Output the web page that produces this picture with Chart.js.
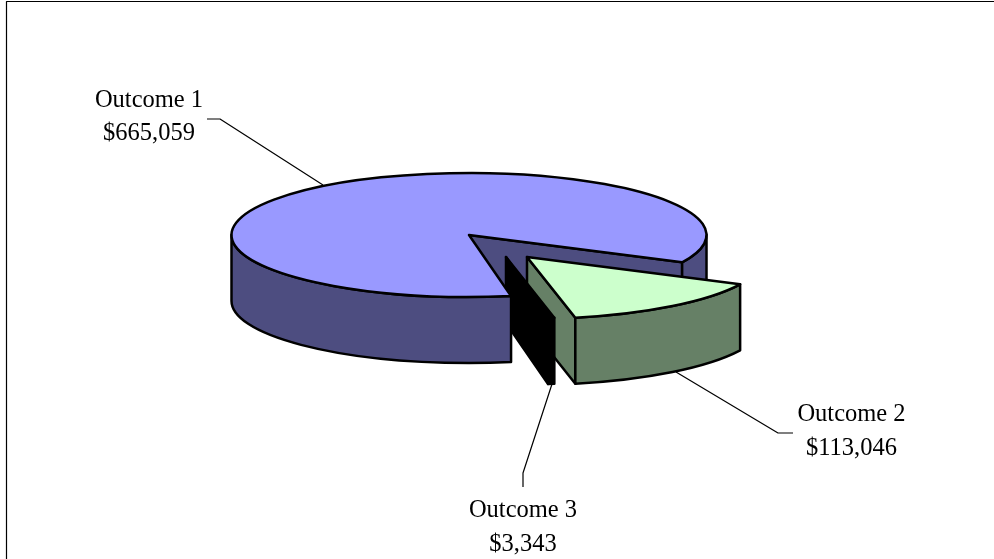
<!DOCTYPE html>
<html><head><meta charset="utf-8">
<style>html,body{margin:0;padding:0;background:#fff}canvas{display:block}</style>
<script src="https://cdn.jsdelivr.net/npm/chart.js@4"></script>
</head><body><canvas id="c" width="994" height="559"></canvas>
<script>
const categories = ['Outcome 1', 'Outcome 2', 'Outcome 3'];
const values = [665059, 113046, 3343];
const topColors = ['#9999FF', '#CCFFCC', '#000000'];
const wallColors = ['#4D4D80', '#668066', '#000000'];

// 3D view settings
const SQUASH = 62 / 237.5;
const RADIUS = 237.5;
const DEPTH = 66;
const ORIGINS = [[469, 235], [527, 257], [506, 257]];
const OUTLINE = 2.5;
const LABELS = [
  {cx: 149, y: [107, 140], line: [[323, 185], [220, 119], [207, 119]]},
  {cx: 851.5, y: [421, 455], line: [[676, 372], [778, 433], [793, 433]]},
  {cx: 523, y: [517, 551], line: [[552, 384], [523, 473], [523, 487]]}
];

const TAU = Math.PI * 2;
function pt(o, a) { return [o[0] + RADIUS * Math.cos(a), o[1] + RADIUS * SQUASH * Math.sin(a)]; }

function outerWall(ctx, o, a0, a1, color) {
  // front-facing band between canvas angles a0..a1 (within 0..PI)
  ctx.beginPath();
  ctx.ellipse(o[0], o[1], RADIUS, RADIUS * SQUASH, 0, a0, a1);
  ctx.ellipse(o[0], o[1] + DEPTH, RADIUS, RADIUS * SQUASH, 0, a1, a0, true);
  ctx.closePath();
  ctx.fillStyle = color; ctx.fill();
  ctx.strokeStyle = '#000'; ctx.lineWidth = OUTLINE; ctx.lineJoin = 'round'; ctx.stroke();
}
function edgeWall(ctx, o, a, color) {
  const p = pt(o, a);
  ctx.beginPath();
  ctx.moveTo(o[0], o[1]); ctx.lineTo(p[0], p[1]);
  ctx.lineTo(p[0], p[1] + DEPTH); ctx.lineTo(o[0], o[1] + DEPTH);
  ctx.closePath();
  ctx.fillStyle = color; ctx.fill();
  ctx.strokeStyle = '#000'; ctx.lineWidth = OUTLINE; ctx.lineJoin = 'round'; ctx.stroke();
}
function topFace(ctx, arc, o) {
  ctx.save();
  ctx.translate(o[0], o[1]);
  ctx.scale(1, SQUASH);
  ctx.translate(-arc.x, -arc.y);
  arc.draw(ctx);
  ctx.restore();
  ctx.beginPath();
  ctx.moveTo(o[0], o[1]);
  ctx.ellipse(o[0], o[1], RADIUS, RADIUS * SQUASH, 0, arc.startAngle, arc.endAngle);
  ctx.closePath();
  ctx.strokeStyle = '#000'; ctx.lineWidth = OUTLINE; ctx.lineJoin = 'round'; ctx.stroke();
}

const pie3d = {
  id: 'pie3d',
  beforeDatasetDraw(chart) {
    const ctx = chart.ctx;
    const arcs = chart.getDatasetMeta(0).data;
    const [a, b, c] = arcs;
    const aStart = a.startAngle, aEnd = a.endAngle;
    // slice 1: cut wall and the right-hand rim behind the exploded slices
    edgeWall(ctx, ORIGINS[0], aEnd, wallColors[0]);
    outerWall(ctx, ORIGINS[0], 0, aEnd - TAU, wallColors[0]);
    // slice 2
    edgeWall(ctx, ORIGINS[1], b.endAngle, wallColors[1]);
    outerWall(ctx, ORIGINS[1], b.startAngle - TAU, b.endAngle - TAU, wallColors[1]);
    topFace(ctx, b, ORIGINS[1]);
    // slice 3
    edgeWall(ctx, ORIGINS[2], c.endAngle, wallColors[2]);
    outerWall(ctx, ORIGINS[2], c.startAngle - TAU, c.endAngle - TAU, wallColors[2]);
    topFace(ctx, c, ORIGINS[2]);
    // slice 1: front-left rim and top
    outerWall(ctx, ORIGINS[0], aStart, Math.PI, wallColors[0]);
    topFace(ctx, a, ORIGINS[0]);
    return false;
  },
  afterDraw(chart) {
    const ctx = chart.ctx;
    ctx.save();
    ctx.strokeStyle = '#000'; ctx.lineWidth = 1.2;
    ctx.beginPath();
    ctx.moveTo(6.5, 559); ctx.lineTo(6.5, 1.5); ctx.lineTo(994, 1.5);
    ctx.stroke();
    ctx.lineWidth = 1.2; ctx.strokeStyle = '#000';
    LABELS.forEach((l, i) => {
      ctx.beginPath();
      l.line.forEach((p, j) => j ? ctx.lineTo(p[0], p[1]) : ctx.moveTo(p[0], p[1]));
      ctx.stroke();
      ctx.fillStyle = '#000';
      ctx.font = '24.5px "Liberation Serif"';
      ctx.textAlign = 'center'; ctx.textBaseline = 'alphabetic';
      ctx.fillText(categories[i], l.cx, l.y[0]);
      ctx.fillText('$' + values[i].toLocaleString('en-US'), l.cx, l.y[1]);
    });
    ctx.restore();
  }
};

new Chart(document.getElementById('c').getContext('2d'), {
  type: 'pie',
  data: {
    labels: categories,
    datasets: [{
      data: values,
      backgroundColor: topColors,
      borderWidth: 0,
      hoverOffset: 0
    }]
  },
  options: {
    responsive: false,
    animation: false,
    rotation: 169.8,
    radius: RADIUS,
    layout: {padding: 0},
    events: [],
    plugins: {legend: {display: false}, tooltip: {enabled: false}, title: {display: false}}
  },
  plugins: [pie3d]
});
</script>
</body></html>
